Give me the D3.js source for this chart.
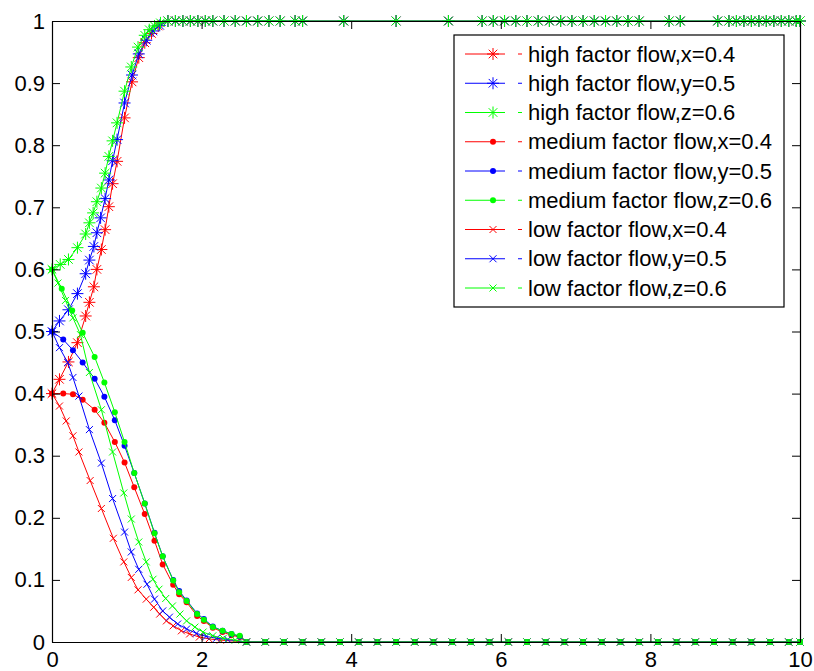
<!DOCTYPE html>
<html>
<head>
<meta charset="utf-8">
<script src="https://cdn.jsdelivr.net/npm/d3@7"></script>
<style>
  body { margin: 0; background: #fff; }
  svg { display: block; font-family: "Liberation Sans", Arial, sans-serif; }
</style>
</head>
<body>
<svg width="814" height="671"></svg>
<script>
// data
const xTicks = [0, 2, 4, 6, 8, 10];
const yTicks = [0, 0.1, 0.2, 0.3, 0.4, 0.5, 0.6, 0.7, 0.8, 0.9, 1];

const tHighX = [0, 0.10, 0.22, 0.34, 0.45, 0.50, 0.56, 0.60, 0.66, 0.71, 0.76, 0.81, 0.87, 0.97, 1.07, 1.16, 1.24, 1.33, 1.42];
const highX  = [0.4, 0.423, 0.451, 0.482, 0.525, 0.547, 0.572, 0.600, 0.632, 0.664, 0.701, 0.738, 0.774, 0.844, 0.902, 0.941, 0.965, 0.980, 0.992];
const tHighY = [0, 0.10, 0.22, 0.34, 0.45, 0.50, 0.56, 0.60, 0.65, 0.71, 0.76, 0.81, 0.87, 0.97, 1.07, 1.16, 1.26, 1.35, 1.44];
const highY  = [0.5, 0.517, 0.535, 0.561, 0.593, 0.615, 0.637, 0.659, 0.683, 0.714, 0.744, 0.775, 0.809, 0.868, 0.913, 0.947, 0.969, 0.984, 0.993];
const tHighZ = [0, 0.11, 0.22, 0.34, 0.45, 0.50, 0.55, 0.60, 0.66, 0.71, 0.76, 0.81, 0.87, 0.97, 1.06, 1.15, 1.24, 1.30, 1.37, 1.45];
const highZ  = [0.6, 0.608, 0.616, 0.635, 0.657, 0.675, 0.691, 0.709, 0.731, 0.755, 0.782, 0.807, 0.836, 0.887, 0.926, 0.958, 0.977, 0.986, 0.992, 0.997];

const tMedX = [0, 0.15, 0.28, 0.41, 0.57, 0.70, 0.84, 0.97, 1.10, 1.24, 1.37, 1.48, 1.62, 1.70, 1.80, 1.94, 2.03, 2.15, 2.28, 2.40, 2.51];
const medX  = [0.4, 0.400, 0.399, 0.390, 0.374, 0.353, 0.322, 0.289, 0.249, 0.206, 0.163, 0.125, 0.092, 0.077, 0.064, 0.042, 0.034, 0.023, 0.016, 0.011, 0.008];
const tMedY = [0, 0.15, 0.28, 0.41, 0.57, 0.70, 0.84, 0.97, 1.10, 1.24, 1.37, 1.48, 1.62, 1.70, 1.80, 1.94, 2.03, 2.15, 2.28, 2.40, 2.51];
const medY  = [0.5, 0.487, 0.470, 0.450, 0.424, 0.395, 0.357, 0.316, 0.272, 0.223, 0.176, 0.138, 0.100, 0.082, 0.067, 0.046, 0.037, 0.025, 0.018, 0.013, 0.009];
const tMedZ = [0, 0.13, 0.27, 0.41, 0.57, 0.70, 0.84, 0.97, 1.10, 1.24, 1.37, 1.48, 1.62, 1.70, 1.80, 1.94, 2.03, 2.15, 2.28, 2.40, 2.51];
const medZ  = [0.6, 0.569, 0.534, 0.498, 0.459, 0.418, 0.370, 0.322, 0.272, 0.223, 0.175, 0.138, 0.099, 0.080, 0.066, 0.045, 0.036, 0.024, 0.018, 0.013, 0.010];

const tLowX = [0, 0.10, 0.19, 0.28, 0.36, 0.51, 0.66, 0.82, 0.96, 1.06, 1.15, 1.26, 1.36, 1.44, 1.53, 1.62, 1.73, 1.84, 1.97, 2.10, 2.25];
const lowX  = [0.4, 0.380, 0.356, 0.332, 0.306, 0.260, 0.215, 0.167, 0.129, 0.104, 0.084, 0.069, 0.056, 0.045, 0.034, 0.026, 0.018, 0.013, 0.008, 0.005, 0.003];
const tLowY = [0, 0.10, 0.21, 0.28, 0.36, 0.50, 0.66, 0.81, 0.97, 1.06, 1.16, 1.27, 1.37, 1.48, 1.57, 1.68, 1.80, 1.93, 2.06, 2.20, 2.35];
const lowY  = [0.5, 0.474, 0.450, 0.426, 0.396, 0.342, 0.288, 0.231, 0.177, 0.145, 0.117, 0.093, 0.069, 0.050, 0.040, 0.029, 0.021, 0.014, 0.009, 0.006, 0.004];
const tLowZ = [0, 0.08, 0.18, 0.28, 0.38, 0.50, 0.66, 0.81, 0.96, 1.06, 1.16, 1.26, 1.35, 1.43, 1.52, 1.61, 1.71, 1.80, 1.91, 2.02, 2.15, 2.29, 2.45];
const lowZ  = [0.6, 0.578, 0.550, 0.522, 0.495, 0.434, 0.374, 0.306, 0.240, 0.198, 0.161, 0.129, 0.101, 0.085, 0.070, 0.058, 0.045, 0.034, 0.024, 0.016, 0.010, 0.006, 0.003];

// steady parts: high flows sit at 1, the others at 0
const topT = [1.55, 1.65, 1.75, 1.85, 1.95, 2.05, 2.15, 2.3, 2.45, 2.6, 2.75, 2.9, 3.05, 3.25, 3.35, 3.9, 4.6, 5.3, 5.75, 5.9, 6.05, 6.2, 6.35, 6.5, 6.65, 6.8, 6.95, 7.1, 7.25, 7.4, 7.55, 7.7, 7.85, 8.25, 8.4, 8.9, 9.05, 9.15, 9.25, 9.35, 9.45, 9.55, 9.65, 9.75, 9.85, 9.95, 10];
const topV = [1, 1, 1, 1, 1, 1, 1, 1, 1, 1, 1, 1, 1, 1, 1, 1, 1, 1, 1, 1, 1, 1, 1, 1, 1, 1, 1, 1, 1, 1, 1, 1, 1, 1, 1, 1, 1, 1, 1, 1, 1, 1, 1, 1, 1, 1, 1];
const bottomT = [2.6, 2.85, 3.1, 3.35, 3.6, 3.85, 4.1, 4.35, 4.6, 4.85, 5.1, 5.35, 5.6, 5.85, 6.1, 6.35, 6.6, 6.85, 7.1, 7.35, 7.6, 7.85, 8.1, 8.35, 8.6, 8.85, 9.1, 9.35, 9.6, 9.85, 10];
const bottomV = [0, 0, 0, 0, 0, 0, 0, 0, 0, 0, 0, 0, 0, 0, 0, 0, 0, 0, 0, 0, 0, 0, 0, 0, 0, 0, 0, 0, 0, 0, 0];

const labels = [
  'high factor flow,x=0.4', 'high factor flow,y=0.5', 'high factor flow,z=0.6',
  'medium factor flow,x=0.4', 'medium factor flow,y=0.5', 'medium factor flow,z=0.6',
  'low factor flow,x=0.4', 'low factor flow,y=0.5', 'low factor flow,z=0.6'
];

const svg = d3.select('svg');
const W = 814, H = 671;
const plotLeft = 52, plotRight = 800, plotTop = 21, plotBottom = 642;

const x = d3.scaleLinear().domain([0, 10]).range([plotLeft, plotRight]);
const y = d3.scaleLinear().domain([0, 1]).range([plotBottom, plotTop]);

svg.append('rect').attr('width', W).attr('height', H).attr('fill', '#fff');

// join the transient part with its steady tail
function build(t, v, tailT, tailV) {
  const pts = t.map((d, i) => [d, v[i]]);
  const last = t[t.length - 1];
  tailT.forEach((d, i) => { if (d > last) pts.push([d, tailV[i]]); });
  return pts;
}

const series = [
  { pts: build(tHighX, highX, topT, topV), color: '#ff0000', marker: 'star' },
  { pts: build(tHighY, highY, topT, topV), color: '#0000ff', marker: 'star' },
  { pts: build(tHighZ, highZ, topT, topV), color: '#00ff00', marker: 'star' },
  { pts: build(tMedX, medX, bottomT, bottomV), color: '#ff0000', marker: 'dot' },
  { pts: build(tMedY, medY, bottomT, bottomV), color: '#0000ff', marker: 'dot' },
  { pts: build(tMedZ, medZ, bottomT, bottomV), color: '#00ff00', marker: 'dot' },
  { pts: build(tLowX, lowX, bottomT, bottomV), color: '#ff0000', marker: 'cross' },
  { pts: build(tLowY, lowY, bottomT, bottomV), color: '#0000ff', marker: 'cross' },
  { pts: build(tLowZ, lowZ, bottomT, bottomV), color: '#00ff00', marker: 'cross' }
];

function drawMarker(g, kind, cx, cy, color) {
  if (kind === 'dot') {
    g.append('circle').attr('cx', cx).attr('cy', cy).attr('r', 3).attr('fill', color);
  } else if (kind === 'star') {
    const s = 6, d = 4.3;
    g.append('path')
      .attr('d', `M${cx - s},${cy}H${cx + s}M${cx},${cy - s}V${cy + s}` +
        `M${cx - d},${cy - d}L${cx + d},${cy + d}M${cx - d},${cy + d}L${cx + d},${cy - d}`)
      .attr('stroke', color).attr('stroke-width', 1).attr('fill', 'none');
  } else {
    const d = 3.5;
    g.append('path')
      .attr('d', `M${cx - d},${cy - d}L${cx + d},${cy + d}M${cx - d},${cy + d}L${cx + d},${cy - d}`)
      .attr('stroke', color).attr('stroke-width', 1).attr('fill', 'none');
  }
}

const line = d3.line().x(d => x(d[0])).y(d => y(d[1]));
const plot = svg.append('g');

series.forEach(s => {
  const g = plot.append('g');
  g.append('path')
    .datum(s.pts)
    .attr('d', line)
    .attr('fill', 'none')
    .attr('stroke', s.color)
    .attr('stroke-width', 1);
  s.pts.forEach(p => drawMarker(g, s.marker, x(p[0]), y(p[1]), s.color));
});

// axes, MATLAB style box with inward ticks
const fontSize = '22px';
const xAxis = svg.append('g').attr('transform', `translate(0,${plotBottom})`)
  .call(d3.axisBottom(x).tickValues(xTicks).tickFormat(d3.format('~g')).tickSizeInner(-8).tickSizeOuter(0).tickPadding(9));
const yAxis = svg.append('g').attr('transform', `translate(${plotLeft},0)`)
  .call(d3.axisLeft(y).tickValues(yTicks).tickFormat(d3.format('~g')).tickSizeInner(-8).tickSizeOuter(0).tickPadding(7));
const xTop = svg.append('g').attr('transform', `translate(0,${plotTop})`)
  .call(d3.axisTop(x).tickValues(xTicks).tickFormat('').tickSizeInner(-8).tickSizeOuter(0));
const yRight = svg.append('g').attr('transform', `translate(${plotRight},0)`)
  .call(d3.axisRight(y).tickValues(yTicks).tickFormat('').tickSizeInner(-8).tickSizeOuter(0));

[xAxis, yAxis, xTop, yRight].forEach(a => {
  a.select('.domain').attr('stroke', '#000').attr('stroke-width', 1.2);
  a.selectAll('.tick line').attr('stroke', '#000');
  a.selectAll('text').attr('fill', '#000').style('font-size', fontSize)
    .style('font-family', '"Liberation Sans", Arial, sans-serif');
});

// legend
const lg = svg.append('g');
const boxL = 454, boxT = 35, boxR = 784, boxB = 307;
lg.append('rect')
  .attr('x', boxL).attr('y', boxT)
  .attr('width', boxR - boxL).attr('height', boxB - boxT)
  .attr('fill', '#fff').attr('stroke', '#000').attr('stroke-width', 1.2);

const rowY = d3.scaleLinear().domain([0, 8]).range([54, 288]);
labels.forEach((lab, i) => {
  const s = series[i];
  const cy = rowY(i);
  lg.append('line').attr('x1', 465).attr('x2', 505).attr('y1', cy).attr('y2', cy)
    .attr('stroke', s.color).attr('stroke-width', 1);
  drawMarker(lg, s.marker, 493, cy, s.color);
  lg.append('line').attr('x1', 518).attr('x2', 522).attr('y1', cy).attr('y2', cy)
    .attr('stroke', s.color).attr('stroke-width', 1);
  lg.append('text')
    .attr('x', 528).attr('y', cy)
    .attr('dy', '0.35em')
    .style('font-size', fontSize)
    .attr('fill', '#000')
    .text(lab);
});
</script>
</body>
</html>
